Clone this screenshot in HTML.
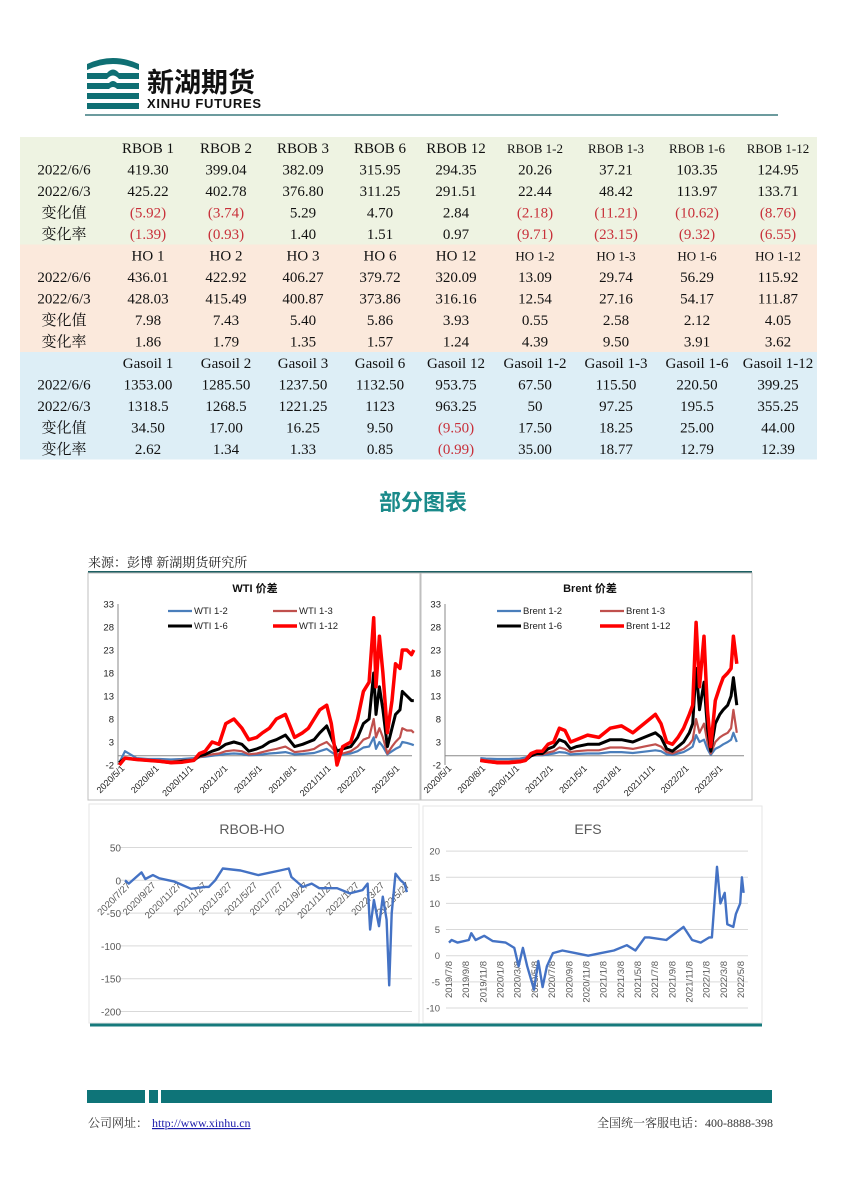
<!DOCTYPE html>
<html><head><meta charset="utf-8"><style>
html,body{margin:0;padding:0;background:#fff;}
svg{display:block;}
.serif{font-family:"Liberation Serif","Noto Serif CJK SC",serif;}
.sans{font-family:"Liberation Sans","Noto Sans CJK SC",sans-serif;}
</style></head><body>
<svg id="pg" width="850" height="1202" viewBox="0 0 850 1202" xmlns="http://www.w3.org/2000/svg">
<g>
  <g fill="#0f6f73">
    <path d="M87 64 Q113 52 139 64 L139 70 Q113 58 87 70 Z"/>
    <rect x="87" y="73" width="20" height="6"/><rect x="119" y="73" width="20" height="6"/>
    <path d="M107 73 Q113 66 119 73 L119 79 Q113 72 107 79 Z"/>
    <rect x="87" y="83" width="22" height="6"/><rect x="117" y="83" width="22" height="6"/>
    <path d="M109 83 Q113 79 117 83 L117 89 Q113 85 109 89 Z"/>
    <rect x="87" y="93" width="52" height="6"/>
    <rect x="87" y="103" width="52" height="6"/>
  </g>
  <text x="147" y="92" font-size="27" font-weight="bold" fill="#111" class="sans">新湖期货</text>
  <text x="147" y="108" font-size="13" font-weight="bold" fill="#111" class="sans" textLength="114">XINHU FUTURES</text>
</g>
<line x1="85" y1="115" x2="778" y2="115" stroke="#3c7a7e" stroke-width="1.5"/>
<g id="tbl"></g>
<text x="423" y="510" text-anchor="middle" font-size="22" font-weight="bold" fill="#1a8a8a" class="sans">部分图表</text>
<text x="88" y="567" font-size="13" fill="#222" class="serif">来源：彭博  新湖期货研究所</text>
<line x1="88" y1="572" x2="752" y2="572" stroke="#1d5f62" stroke-width="2"/>
<g id="charts"></g>
<line x1="90" y1="1025" x2="762" y2="1025" stroke="#167a7c" stroke-width="3"/>
<g fill="#0e7478">
  <rect x="87" y="1090" width="58" height="13"/><rect x="149" y="1090" width="9" height="13"/><rect x="161" y="1090" width="611" height="13"/>
</g>
<text x="88" y="1127" font-size="12" fill="#333" class="serif">公司网址：</text>
<text x="152" y="1127" font-size="12" fill="#1a1aaa" text-decoration="underline" class="serif">http://www.xinhu.cn</text>
<text x="773" y="1127" text-anchor="end" font-size="12" fill="#333" class="serif">全国统一客服电话：400-8888-398</text>
</svg>
<script>
const NS='http://www.w3.org/2000/svg';
function mk(tag,attrs,parent,txt){const e=document.createElementNS(NS,tag);for(const k in attrs)e.setAttribute(k,attrs[k]);if(txt!==undefined)e.textContent=txt;parent.appendChild(e);return e;}

/* ---------- table ---------- */
const blockHeads=[
 ['RBOB 1','RBOB 2','RBOB 3','RBOB 6','RBOB 12','RBOB 1-2','RBOB 1-3','RBOB 1-6','RBOB 1-12'],
 ['HO 1','HO 2','HO 3','HO 6','HO 12','HO 1-2','HO 1-3','HO 1-6','HO 1-12'],
 ['Gasoil 1','Gasoil 2','Gasoil 3','Gasoil 6','Gasoil 12','Gasoil 1-2','Gasoil 1-3','Gasoil 1-6','Gasoil 1-12']];
const rowLabels=['2022/6/6','2022/6/3','变化值','变化率'];
const blockVals=[
 [['419.30','399.04','382.09','315.95','294.35','20.26','37.21','103.35','124.95'],
  ['425.22','402.78','376.80','311.25','291.51','22.44','48.42','113.97','133.71'],
  ['(5.92)','(3.74)','5.29','4.70','2.84','(2.18)','(11.21)','(10.62)','(8.76)'],
  ['(1.39)','(0.93)','1.40','1.51','0.97','(9.71)','(23.15)','(9.32)','(6.55)']],
 [['436.01','422.92','406.27','379.72','320.09','13.09','29.74','56.29','115.92'],
  ['428.03','415.49','400.87','373.86','316.16','12.54','27.16','54.17','111.87'],
  ['7.98','7.43','5.40','5.86','3.93','0.55','2.58','2.12','4.05'],
  ['1.86','1.79','1.35','1.57','1.24','4.39','9.50','3.91','3.62']],
 [['1353.00','1285.50','1237.50','1132.50','953.75','67.50','115.50','220.50','399.25'],
  ['1318.5','1268.5','1221.25','1123','963.25','50','97.25','195.5','355.25'],
  ['34.50','17.00','16.25','9.50','(9.50)','17.50','18.25','25.00','44.00'],
  ['2.62','1.34','1.33','0.85','(0.99)','35.00','18.77','12.79','12.39']]];
const blockColors=['#eef3e2','#fbe9dc','#ddeef6'];
const colX=[148,226,303,380,456,535,616,697,778];
const tbl=document.getElementById('tbl');
for(let b=0;b<3;b++){
  const top=137+b*107.5;
  const r=mk('rect',{x:20,y:top,width:797,height:107.5,fill:blockColors[b]},tbl);
  
  
  for(let c=0;c<9;c++){
    const small=(b<2&&c>=5);
    const t=mk('text',{x:colX[c],y:top+16,'text-anchor':'middle','font-size':small?13:15,fill:'#111',class:'serif'},tbl,blockHeads[b][c]);
    
    
  }
  for(let r2=0;r2<4;r2++){
    const y=top+16+(r2+1)*21.5;
    const l=mk('text',{x:64,y:y,'text-anchor':'middle','font-size':15,fill:'#111',class:'serif'},tbl,rowLabels[r2]);
    
    
    for(let c=0;c<9;c++){
      const v=blockVals[b][r2][c];
      const t=mk('text',{x:colX[c],y:y,'text-anchor':'middle','font-size':15,fill:v[0]==='('?'#c8303a':'#111',class:'serif'},tbl,v);
      
      
    }
  }
}

/* ---------- chart data ---------- */
const wtiT=[-0.5,0,1,2,3,4,5,6,6.5,7,7.6,8.2,8.8,9.5,10.2,10.8,11.5,12,12.6,13.2,14,14.8,15.5,16,16.5,17,17.6,18,18.5,19,19.7,20.3,20.8,21.3,21.7,21.9,22.2,22.5,22.9,23.3,23.6,24,24.2,24.6,25,25.2];
const wti12=[-1.5,1,-0.5,-0.7,-0.7,-0.8,-0.7,-0.5,-0.3,-0.2,0,0.2,0.4,0.5,0.4,0.1,0.2,0.3,0.5,0.6,0.8,0.3,0.4,0.5,0.6,1,1.5,0.8,0,0.3,0.5,1,1.8,2,4,1.5,3,2,0.3,1,1.5,2,3,2.8,2.5,2.3];
const wti13=[-1.5,-0.5,-0.8,-1,-1,-1.2,-1,-0.8,-0.3,0,0.3,0.5,1,1.2,1,0.3,0.5,0.8,1.2,1.5,2,0.8,1,1.2,1.5,2.3,3,2,0.3,0.5,1,2,3.5,4,8,4,6,4,0.5,2,3,4,6,5.5,5.5,5];
const wti16=[-1.5,-0.5,-0.8,-1,-1.2,-1.5,-1.2,-1,0,0.3,1,1.5,2.5,3,2.5,1,1.5,2,3,3.5,4.5,2,2.5,3,3.5,5,6.5,4,1,1.5,2,4,7,8,18,9,15,10,2,6,9,10,14,13,12,12];
const wti112=[-2,-0.5,-0.8,-1,-1.2,-1.5,-1.4,-1,0.5,1,3,2.5,7,8,6,3.5,4,5,6,8,9,4,5,6,8,10,11,7,-2,2,3,8,14,16,30,15,26,18,5,12,20,19,23,23,22,23];
const brT=[2.5,3,4,5,6,6.5,7,7.5,8,8.5,9,9.5,10,10.5,11,12,13,14,15,16,17,18,18.5,19,19.5,20,20.5,21,21.3,21.6,21.9,22.3,22.6,22.9,23.3,23.7,24,24.4,24.7,24.9,25.2];
const br12=[-0.5,-0.6,-0.7,-0.7,-0.6,-0.4,0,0.1,0.1,0.3,0.5,0.8,0.7,0.3,0.4,0.5,0.5,0.8,0.8,0.6,0.9,1.2,1,0.3,0.2,0.5,0.8,1.5,2,4.5,3,3.5,1.5,0.2,1.5,2,2.5,3,3.5,5,3];
const br13=[-0.8,-1,-1.2,-1.2,-1,-0.8,0,0.2,0.3,0.7,1,1.8,1.5,0.8,1,1.2,1.2,1.8,1.8,1.5,2,2.5,2,0.8,0.5,1,1.5,2.5,3.5,8,5,7,3,0.5,3,4,4.5,5,6,10,5];
const br16=[-1,-1.2,-1.5,-1.5,-1.3,-1,0,0.5,0.5,1.5,2,3.5,3,1.5,2,2.5,2.5,3.5,3.5,3,4,5,4,1.5,1,2,3,5,7,19,10,16,6,1,7,9,10,11,13,17,11];
const br112=[-1,-1.2,-1.5,-1.5,-1.3,-1,0.5,1,1,2.5,3,6,5.5,3,3.5,4.5,4,6,6.5,5,7,9,7,3,2.5,4,6,9,11,29,15,26,10,2,12,15,17,18,19,26,20];
const spreadTicks=[-2,3,8,13,18,23,28,33];
const spreadDateLabels=['2020/5/1','2020/8/1','2020/11/1','2021/2/1','2021/5/1','2021/8/1','2021/11/1','2022/2/1','2022/5/1'];
const spreadDateT=[0,3,6,9,12,15,18,21,24];
const rhT=[0,0.3,1.3,1.6,2.2,2.7,3.9,5.2,6.3,6.6,7.1,7.7,9.1,10.5,12.2,12.9,13.1,14,14.7,15.3,16.7,17.7,18.7,19.1,19.3,19.6,20,20.3,20.6,20.8,21,21.3,21.7,22,22.2];
const rhV=[0,-5,12,2,8,3,-2,-13,-10,-10,0,18,15,8,15,18,5,-10,-5,-12,-12,-20,-15,-5,-75,-30,-70,-25,-60,-160,-50,10,0,-5,-18];
const rhTicks=[50,0,-50,-100,-150,-200];
const rhDateLabels=['2020/7/27','2020/9/27','2020/11/27','2021/1/27','2021/3/27','2021/5/27','2021/7/27','2021/9/27','2021/11/27','2022/1/27','2022/3/27','2022/5/27'];
const efsT=[0,0.3,1,2.3,2.6,3.1,4.1,5.1,6.6,7.6,8.1,8.6,9.1,9.9,10.4,10.9,11.4,12.1,13.2,14.7,16.2,17.7,19.2,20.7,21.7,22.8,23.3,25.3,27.3,28.3,29.3,30.3,30.6,30.8,31.2,31.6,32.1,32.4,33.1,33.4,33.9,34.1,34.3];
const efsV=[2.5,3,2.5,3,4.3,3,3.8,2.8,2.5,1.5,-2,1.5,-2,-6.5,-1,-6,-2,0.5,1,0.5,0,0.5,1,2,1,3.5,3.5,3,5.5,3,2.5,3.5,3.5,8,17,10,12,6,5.5,8,10,15,12];
const efsTicks=[20,15,10,5,0,-5,-10];
const efsDateLabels=['2019/7/8','2019/9/8','2019/11/8','2020/1/8','2020/3/8','2020/5/8','2020/7/8','2020/9/8','2020/11/8','2021/1/8','2021/3/8','2021/5/8','2021/7/8','2021/9/8','2021/11/8','2022/1/8','2022/3/8','2022/5/8'];

const charts=document.getElementById('charts');
function line(g,T,V,xf,yf,color,w){
  let d='';for(let i=0;i<T.length;i++)d+=(i?'L':'M')+xf(T[i]).toFixed(1)+' '+yf(V[i]).toFixed(1);
  return mk('path',{d:d,fill:'none',stroke:color,'stroke-width':w,'stroke-linejoin':'round'},g);
}

function spreadChart(name,box,x0,pxm,title,titleX,legX,series,T){
  const g=mk('g',{},charts);
  
  
  const b=mk('rect',{x:box[0],y:box[1],width:box[2],height:box[3],fill:'#fff',stroke:'#bfbfbf','stroke-width':1},g);
  
  
  const xf=t=>x0+t*pxm, yf=v=>765-(v+2)*4.6;
  const ax=xf(0)-7;
  const tt=mk('text',{x:titleX,y:box[1]+19,'text-anchor':'middle','font-size':11,'font-weight':'bold',fill:'#111',class:'sans'},g,title);
  
  
  const ya=mk('line',{x1:ax,y1:yf(33),x2:ax,y2:yf(-2),stroke:'#888'},g);
  
  
  const xa=mk('line',{x1:ax,y1:yf(0),x2:box[0]+box[2]-8,y2:yf(0),stroke:'#888'},g);
  
  
  spreadTicks.forEach(v=>{
    const t=mk('text',{x:ax-4,y:yf(v)+3.5,'text-anchor':'end','font-size':9.5,fill:'#222',class:'sans'},g,String(v));
    
    
  });
  spreadDateLabels.forEach((s,i)=>{
    const x=xf(spreadDateT[i]);
    const t=mk('text',{x:x,y:769,'text-anchor':'end','font-size':9,fill:'#222',class:'sans',transform:`rotate(-45 ${x} 769)`},g,s);
    
    
  });
  series.forEach(s=>{
    const p=line(g,T,s.v,xf,yf,s.c,s.w);
    
    
  });
  series.forEach((s,i)=>{
    const lx=legX[i%2], ly=box[1]+38+Math.floor(i/2)*15;
    const lg=mk('g',{},g);
    
    
    mk('line',{x1:lx,y1:ly,x2:lx+24,y2:ly,stroke:s.c,'stroke-width':s.w},lg);
    mk('text',{x:lx+26,y:ly+3,'font-size':9.5,fill:'#222',class:'sans'},lg,s.label);
  });
}
spreadChart('wti-spread-chart',[88,573,332,227],125,11.46,'WTI 价差',255,[168,273],[
  {id:'wti-1-2-line',label:'WTI 1-2',v:wti12,c:'#4a7ebb',w:2.2},
  {id:'wti-1-3-line',label:'WTI 1-3',v:wti13,c:'#c0504d',w:2.2},
  {id:'wti-1-6-line',label:'WTI 1-6',v:wti16,c:'#000',w:3},
  {id:'wti-1-12-line',label:'WTI 1-12',v:wti112,c:'#ff0000',w:3.5}],wtiT);
spreadChart('brent-spread-chart',[421,573,331,227],452,11.3,'Brent 价差',590,[497,600],[
  {id:'brent-1-2-line',label:'Brent 1-2',v:br12,c:'#4a7ebb',w:2.2},
  {id:'brent-1-3-line',label:'Brent 1-3',v:br13,c:'#c0504d',w:2.2},
  {id:'brent-1-6-line',label:'Brent 1-6',v:br16,c:'#000',w:3},
  {id:'brent-1-12-line',label:'Brent 1-12',v:br112,c:'#ff0000',w:3.5}],brT);

(function(){
  const g=mk('g',{},charts);
  
  
  const fr=mk('rect',{x:89,y:804,width:330,height:219,fill:'#fff',stroke:'#e6e6e6'},g);
  
  
  const xf=t=>125+t*12.7, yf=v=>880.3-v*0.656;
  const tt=mk('text',{x:252,y:834,'text-anchor':'middle','font-size':14,fill:'#595959',class:'sans'},g,'RBOB-HO');
  
  
  rhTicks.forEach(v=>{
    const gl=mk('line',{x1:120,y1:yf(v),x2:412,y2:yf(v),stroke:'#d9d9d9'},g);
    
    
    const t=mk('text',{x:121,y:yf(v)+4,'text-anchor':'end','font-size':10,fill:'#595959',class:'sans'},g,String(v));
    
    
  });
  rhDateLabels.forEach((s,i)=>{
    const x=xf(i*2)+6;
    const t=mk('text',{x:x,y:886,'text-anchor':'end','font-size':9.5,fill:'#595959',class:'sans',transform:`rotate(-45 ${x} 886)`},g,s);
    
    
  });
  const p=line(g,rhT,rhV,xf,yf,'#4472c4',2.4);
  
  
})();

(function(){
  const g=mk('g',{},charts);
  
  
  const fr=mk('rect',{x:423,y:806,width:339,height:217,fill:'#fff',stroke:'#e6e6e6'},g);
  
  
  const xf=t=>449+t*8.59, yf=v=>955.7-v*5.23;
  const tt=mk('text',{x:588,y:834,'text-anchor':'middle','font-size':14,fill:'#595959',class:'sans'},g,'EFS');
  
  
  efsTicks.forEach(v=>{
    const gl=mk('line',{x1:446,y1:yf(v),x2:748,y2:yf(v),stroke:'#d9d9d9'},g);
    
    
    const t=mk('text',{x:440,y:yf(v)+3.5,'text-anchor':'end','font-size':9.5,fill:'#595959',class:'sans'},g,String(v));
    
    
  });
  efsDateLabels.forEach((s,i)=>{
    const x=xf(i*2)+3;
    const t=mk('text',{x:x,y:961,'text-anchor':'end','font-size':9.5,fill:'#595959',class:'sans',transform:`rotate(-90 ${x} 961)`},g,s);
    
    
  });
  const p=line(g,efsT,efsV,xf,yf,'#4472c4',2.4);
  
  
})();
</script>
</body></html>
